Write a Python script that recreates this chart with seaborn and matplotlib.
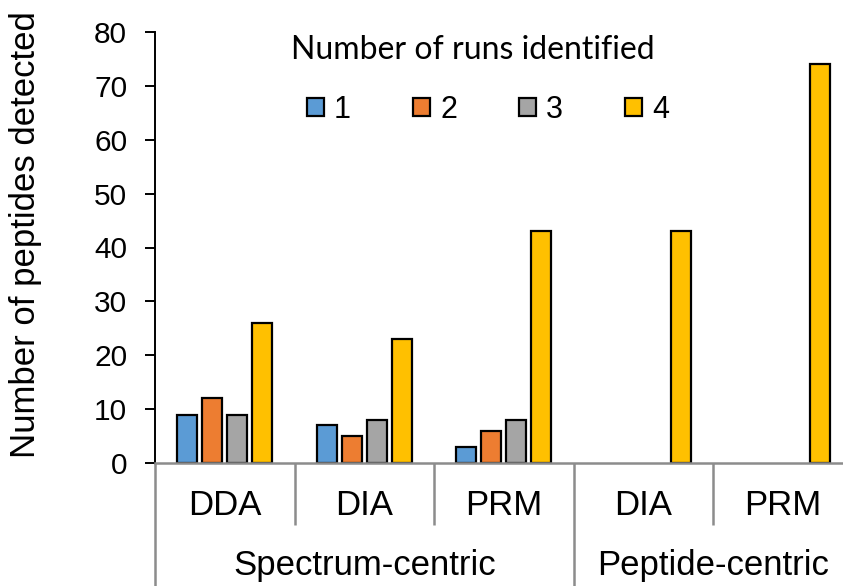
import matplotlib
matplotlib.use("Agg")
import matplotlib.pyplot as plt
import matplotlib.transforms as mtransforms
from matplotlib.patches import Patch
import numpy as np
import pandas as pd
import seaborn as sns

# Acquisition methods, grouped by search strategy
methods = ["DDA", "DIA", "PRM", "DIA", "PRM"]
strategies = ["Spectrum-centric", "Spectrum-centric", "Spectrum-centric",
              "Peptide-centric", "Peptide-centric"]
run_counts = ["1", "2", "3", "4"]

# Peptides detected in 1, 2, 3 or 4 runs (None = no peptides in that bin)
runs_1 = [9, 7, 3, None, None]
runs_2 = [12, 5, 6, None, None]
runs_3 = [9, 8, 8, None, None]
runs_4 = [26, 23, 43, 43, 74]

y_ticks = [0, 10, 20, 30, 40, 50, 60, 70, 80]
colors = ["#5B9BD5", "#ED7D31", "#A5A5A5", "#FFC000"]

sns.set_theme(style="white")
plt.rcParams["font.family"] = ["Liberation Sans", "DejaVu Sans"]
plt.rcParams["text.color"] = "black"
plt.rcParams["axes.labelcolor"] = "black"
plt.rcParams["ytick.color"] = "black"
plt.rcParams["xtick.color"] = "black"

keys = [f"{s} {m}" for s, m in zip(strategies, methods)]
rows = []
for series, label in zip([runs_1, runs_2, runs_3, runs_4], run_counts):
    for k, v in zip(keys, series):
        rows.append({"group": k, "runs": label,
                     "count": np.nan if v is None else v})
df = pd.DataFrame(rows)

fig = plt.figure(figsize=(8.43, 5.86), dpi=100)
ax = fig.add_axes([155 / 843, (586 - 463) / 586, 697.5 / 843, 431 / 586])

sns.barplot(data=df, x="group", y="count", hue="runs", order=keys,
            hue_order=run_counts, palette=colors, width=0.72, gap=0.2,
            edgecolor="black", linewidth=1.6, saturation=1, ax=ax,
            legend=False)

ax.set_xlim(-0.5, len(keys) - 0.5)
ax.set_ylim(0, 80)
ax.set_yticks(y_ticks)
ax.tick_params(axis="y", labelsize=21.5, length=7, width=1.4, color="black",
               direction="out", left=True, pad=13)
ax.set_xticks([])
ax.set_xlabel("")
ax.set_ylabel("Number of peptides detected", fontsize=25)
ax.yaxis.set_label_coords(-0.162, 0.531)

for side in ["top", "right"]:
    ax.spines[side].set_visible(False)
ax.spines["left"].set_color("black")
ax.spines["left"].set_linewidth(1.4)
ax.spines["bottom"].set_color("#8C8C8C")
ax.spines["bottom"].set_linewidth(1.8)

# Two-level category axis
trans = mtransforms.blended_transform_factory(ax.transData, ax.transAxes)
for i, m in enumerate(methods):
    ax.text(i, -0.1206, m, transform=trans, ha="center", va="baseline",
            fontsize=25)

group_names = list(dict.fromkeys(strategies))
for g in group_names:
    idx = [i for i, s in enumerate(strategies) if s == g]
    ax.text(np.mean(idx), -0.2599, g, transform=trans, ha="center",
            va="baseline", fontsize=25)

for b in range(len(keys) + 1):
    x = b - 0.5
    is_group_edge = b == 0 or b == len(keys) or strategies[b] != strategies[b - 1]
    bottom = -0.3 if is_group_edge else -0.144
    ax.plot([x, x], [0, bottom], transform=trans, color="#8C8C8C", lw=1.8,
            clip_on=False, solid_capstyle="butt")

# Legend: heading above a single row of swatches
fig.text(473 / 843, 1 - 59 / 586, "Number of runs identified",
         ha="center", va="baseline", fontsize=23,
         family=["Lato", "DejaVu Sans"])
handles = [Patch(facecolor=c, edgecolor="black", linewidth=1.6)
           for c in colors]
leg = fig.legend(handles, run_counts, ncol=4, loc="center",
                 bbox_to_anchor=(488 / 843, 1 - 110 / 586),
                 frameon=False, fontsize=22, handlelength=0.555,
                 handleheight=0.555, handletextpad=0.33, columnspacing=2.03)

fig.savefig("out.png", dpi=100)
